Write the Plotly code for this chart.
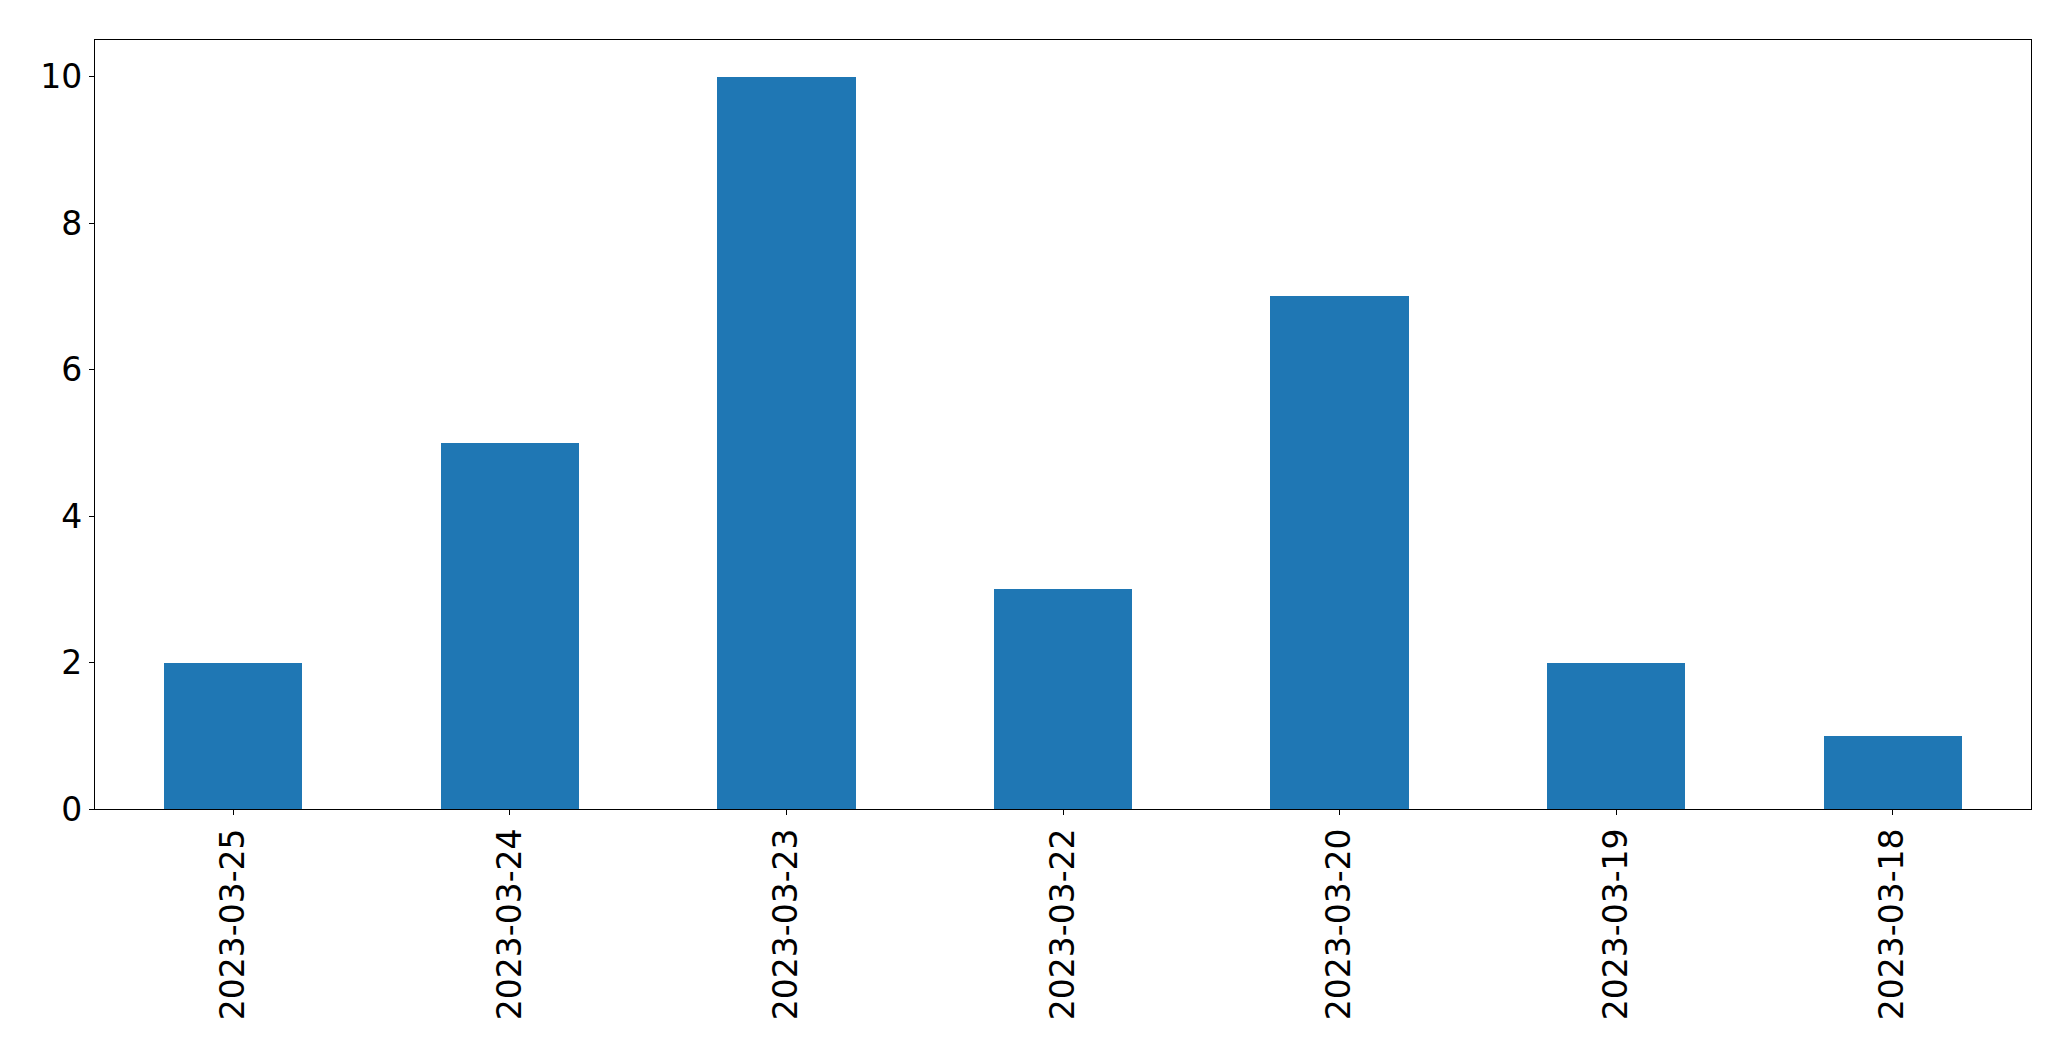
import plotly.graph_objects as go

dates = ["2023-03-25", "2023-03-24", "2023-03-23", "2023-03-22", "2023-03-20", "2023-03-19", "2023-03-18"]
counts = [2, 5, 10, 3, 7, 2, 1]
y_ticks = [0, 2, 4, 6, 8, 10]

fig = go.Figure(
    go.Bar(x=dates, y=counts, width=0.5, marker=dict(color="#1f77b4", line=dict(width=0)))
)

axis_common = dict(
    showline=True, linecolor="black", linewidth=1.4, mirror=True,
    ticks="outside", ticklen=5, tickwidth=1.4, tickcolor="black",
    showgrid=False, zeroline=False,
    tickfont=dict(family="DejaVu Sans", size=33, color="black"),
)

# page body has an 8px default margin, so the figure is sized/offset to compensate
fig.update_layout(
    width=2063, height=1053,
    margin=dict(l=86.5, r=39.5, t=31.5, b=252),
    paper_bgcolor="white", plot_bgcolor="white",
    showlegend=False,
    xaxis=dict(type="category", range=[-0.5, 6.5], tickangle=-90, **axis_common),
    yaxis=dict(range=[0, 10.5], tickvals=y_ticks, **axis_common),
    bargap=0,
)

fig.write_html("out.html")
